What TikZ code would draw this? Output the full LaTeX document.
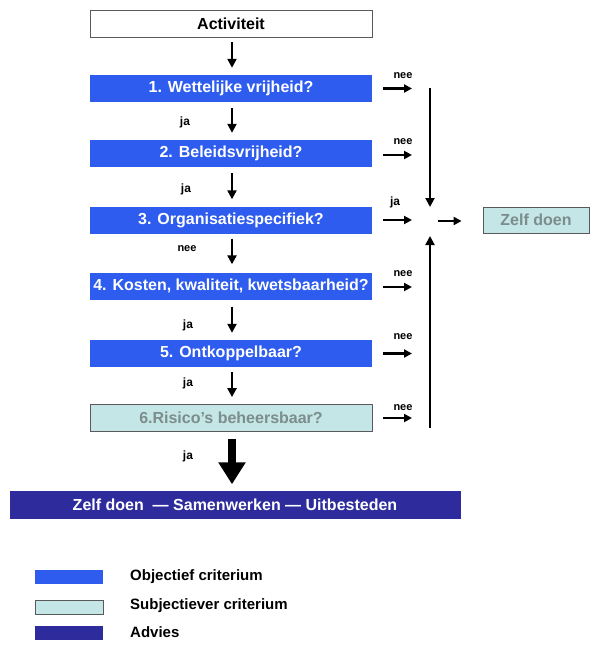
\documentclass[tikz,border=0pt]{standalone}
\usepackage{fontspec}
\setmainfont{Liberation Sans}
\usetikzlibrary{arrows.meta}
\definecolor{objblue}{RGB}{46,92,238}
\definecolor{subjcol}{RGB}{196,230,230}
\definecolor{advcol}{RGB}{46,44,156}
\definecolor{graytext}{RGB}{125,140,140}
\begin{document}
\begin{tikzpicture}[x=1pt,y=-1pt,
  box/.style={minimum width=282pt, minimum height=27pt, inner sep=0pt, font=\fontsize{16}{18}\selectfont\bfseries},
  objbox/.style={box, fill=objblue, text=white},
  subjbox/.style={box, fill=subjcol, draw=gray!70!black, line width=0.8pt, text=graytext},
  lbl/.style={font=\fontsize{11}{12}\selectfont\bfseries, inner sep=0pt},
  jalbl/.style={font=\fontsize{12}{13}\selectfont\bfseries, inner sep=0pt},
  legtxt/.style={font=\fontsize{15}{17}\selectfont\bfseries, inner sep=0pt, anchor=west},
  legbox/.style={minimum width=68pt, minimum height=14pt, inner sep=0pt},
  ar/.style={-{Triangle[length=9pt,width=9pt]}, line width=2.3pt},
  sar/.style={-{Triangle[length=8pt,width=8pt]}, line width=2.3pt},
]
\useasboundingbox (0,0) rectangle (592,645);

% main column
\node[box, draw=gray!70!black, line width=0.8pt, fill=white] (act) at (231,23.5) {Activiteit};
\node[objbox] (b1) at (231,88.5) {1. Wettelijke vrijheid?};
\node[objbox] (b2) at (231,153.5) {2. Beleidsvrijheid?};
\node[objbox] (b3) at (231,220) {3. Organisatiespecifiek?};
\node[objbox] (b4) at (231,286) {4. Kosten, kwaliteit, kwetsbaarheid?};
\node[objbox] (b5) at (231,353.5) {5. Ontkoppelbaar?};
\node[subjbox] (b6) at (231,418) {6.Risico's beheersbaar?};
\node[box, minimum width=451pt, minimum height=28pt, fill=advcol, text=white] (bot) at (235,504.5) {Zelf doen \ --- Samenwerken --- Uitbesteden};

% vertical arrows
\draw[ar, shorten <=5pt, shorten >=7pt] ([xshift=1pt]act.south) -- ([xshift=1pt]b1.north);
\draw[ar, shorten <=6pt, shorten >=7pt] ([xshift=1pt]b1.south) -- ([xshift=1pt]b2.north);
\draw[ar, shorten <=6pt, shorten >=7pt] ([xshift=1pt]b2.south) -- ([xshift=1pt]b3.north);
\draw[ar, shorten <=5pt, shorten >=8pt] ([xshift=1pt]b3.south) -- ([xshift=1pt]b4.north);
\draw[ar, shorten <=7pt, shorten >=7pt] ([xshift=1pt]b4.south) -- ([xshift=1pt]b5.north);
\draw[ar, shorten <=5pt, shorten >=7pt] ([xshift=1pt]b5.south) -- ([xshift=1pt]b6.north);
\draw[-{Triangle[length=22pt,width=26pt]}, line width=8pt, shorten <=7pt, shorten >=6pt] ([xshift=1pt]b6.south) -- ([xshift=-3pt]bot.north);

% ja / nee labels in the column
\node[jalbl] (l1) at (185,122) {ja};
\node[jalbl] (l2) at (186,189) {ja};
\node[lbl] (l3) at (187,249) {nee};
\node[jalbl] (l4) at (188,325) {ja};
\node[jalbl] (l5) at (188,383) {ja};
\node[jalbl] (l6) at (188,456) {ja};

% right side arrows
\coordinate (r1) at (412,88.5);
\coordinate (r2) at (412,155);
\coordinate (r3) at (412,220);
\coordinate (r4) at (412,287);
\coordinate (r5) at (412,353.5);
\coordinate (r6) at (412,418);
\draw[sar, shorten <=11pt] (b1.east |- r1) -- (r1);
\draw[sar, shorten <=11pt] (b2.east |- r2) -- (r2);
\draw[sar, shorten <=11pt] (b3.east |- r3) -- (r3);
\draw[sar, shorten <=11pt] (b4.east |- r4) -- (r4);
\draw[sar, shorten <=11pt] (b5.east |- r5) -- (r5);
\draw[sar, shorten <=11pt] (b6.east |- r6) -- (r6);
\node[lbl] (n1) at (403,76) {nee};
\node[lbl] (n2) at (403,142) {nee};
\node[jalbl] (n3) at (395,202) {ja};
\node[lbl] (n4) at (403,274) {nee};
\node[lbl] (n5) at (403,337) {nee};
\node[lbl] (n6) at (403,408) {nee};

% junction
\coordinate (J) at (430,221);
\coordinate (top) at (430,88);
\coordinate (bottom) at (430,428);
\node[minimum width=106pt, minimum height=26pt, inner sep=0pt, fill=subjcol, draw=gray!70!black, line width=0.8pt, text=graytext, font=\fontsize{16}{18}\selectfont\bfseries] (zd) at (536,220) {Zelf doen};
\draw[ar, line width=2pt, shorten >=14pt] (top) -- (J);
\draw[ar, line width=2pt, shorten >=15pt] (bottom) -- (J);
\draw[sar, shorten <=8pt, shorten >=21pt] (J) -- (zd.west |- J);

% legend
\node[legbox, fill=objblue] (lg1) at (69,577) {};
\node[legbox, fill=subjcol, draw=gray!70!black, line width=0.8pt] (lg2) at (69,607) {};
\node[legbox, fill=advcol] (lg3) at (69,633) {};
\node[legtxt] (t1) at (130,577) {Objectief criterium};
\node[legtxt] (t2) at (130,606) {Subjectiever criterium};
\node[legtxt] (t3) at (130,632) {Advies};
\end{tikzpicture}
\end{document}
